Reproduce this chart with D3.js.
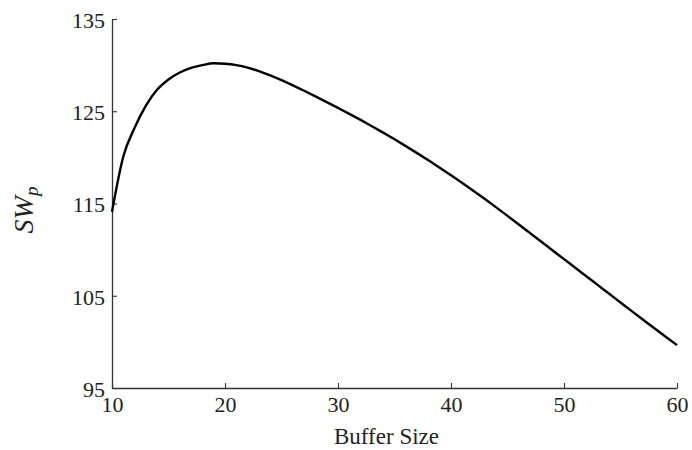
<!DOCTYPE html>
<html>
<head>
<style>
body { margin: 0; background: #fff; }
</style>
</head>
<body>
<div id="chart"></div>
<script src="https://d3js.org/d3.v7.min.js"></script>
<script>
// data
const bufferSize = d3.range(10, 61);
const swp = [
  114.1, 120.1, 123.2, 125.6, 127.35, 128.45, 129.2, 129.7, 130.0, 130.2,
  130.15, 130.0, 129.73, 129.35, 128.89, 128.37, 127.81, 127.22, 126.61, 125.99,
  125.36, 124.72, 124.06, 123.38, 122.68, 121.96, 121.22, 120.46, 119.68, 118.88,
  118.06, 117.22, 116.36, 115.48, 114.58, 113.66, 112.73, 111.79, 110.85, 109.91,
  108.97, 108.03, 107.09, 106.15, 105.21, 104.27, 103.33, 102.4, 101.47, 100.55,
  99.65
];
const xTicks = [10, 20, 30, 40, 50, 60];
const yTicks = [95, 105, 115, 125, 135];

const width = 692, height = 450;
const margin = {top: 19, right: 15, bottom: 62, left: 112};

const svg = d3.select("#chart").append("svg")
  .attr("width", width)
  .attr("height", height)
  .attr("font-family", "Liberation Serif");

const x = d3.scaleLinear().domain([10, 60]).range([margin.left, width - margin.right]);
const y = d3.scaleLinear().domain([95, 135]).range([height - margin.bottom, margin.top]);

// axes, ticks point inward
const gx = svg.append("g")
  .attr("transform", `translate(0,${height - margin.bottom})`)
  .call(d3.axisBottom(x).tickValues(xTicks).tickSizeInner(-5).tickSizeOuter(0).tickFormat(d3.format("d")));

const gy = svg.append("g")
  .attr("transform", `translate(${margin.left},0)`)
  .call(d3.axisLeft(y).tickValues(yTicks).tickSizeInner(-5).tickSizeOuter(0).tickFormat(d3.format("d")));

[gx, gy].forEach(g => {
  g.attr("font-family", "Liberation Serif").attr("font-size", 22);
  g.select(".domain").attr("stroke", "#333").attr("stroke-width", 1.3);
  g.selectAll(".tick line").attr("stroke", "#333").attr("stroke-width", 1.1);
  g.selectAll(".tick text").attr("fill", "#222");
});

gx.selectAll(".tick text").attr("y", 8).attr("dy", "0.71em");
gy.selectAll(".tick text").attr("x", -7).attr("dy", "0.38em");

// curve
const line = d3.line()
  .x((d, i) => x(bufferSize[i]))
  .y(d => y(d))
  .curve(d3.curveMonotoneX);

svg.append("path")
  .datum(swp)
  .attr("fill", "none")
  .attr("stroke", "#000")
  .attr("stroke-width", 2.4)
  .attr("stroke-linejoin", "round")
  .attr("d", line);

// axis titles
svg.append("text")
  .attr("x", x(35) - 8)
  .attr("y", 444)
  .attr("text-anchor", "middle")
  .attr("font-family", "Liberation Serif")
  .attr("font-size", 23)
  .attr("fill", "#222")
  .text("Buffer Size");

const yl = svg.append("text")
  .attr("transform", "translate(33,210) rotate(-90)")
  .attr("text-anchor", "middle")
  .attr("font-family", "Liberation Serif")
  .attr("font-size", 28)
  .attr("font-style", "italic")
  .attr("fill", "#222");
yl.append("tspan").text("SW");
yl.append("tspan").attr("font-size", 19).attr("dy", 5).text("p");
</script>
</body>
</html>
